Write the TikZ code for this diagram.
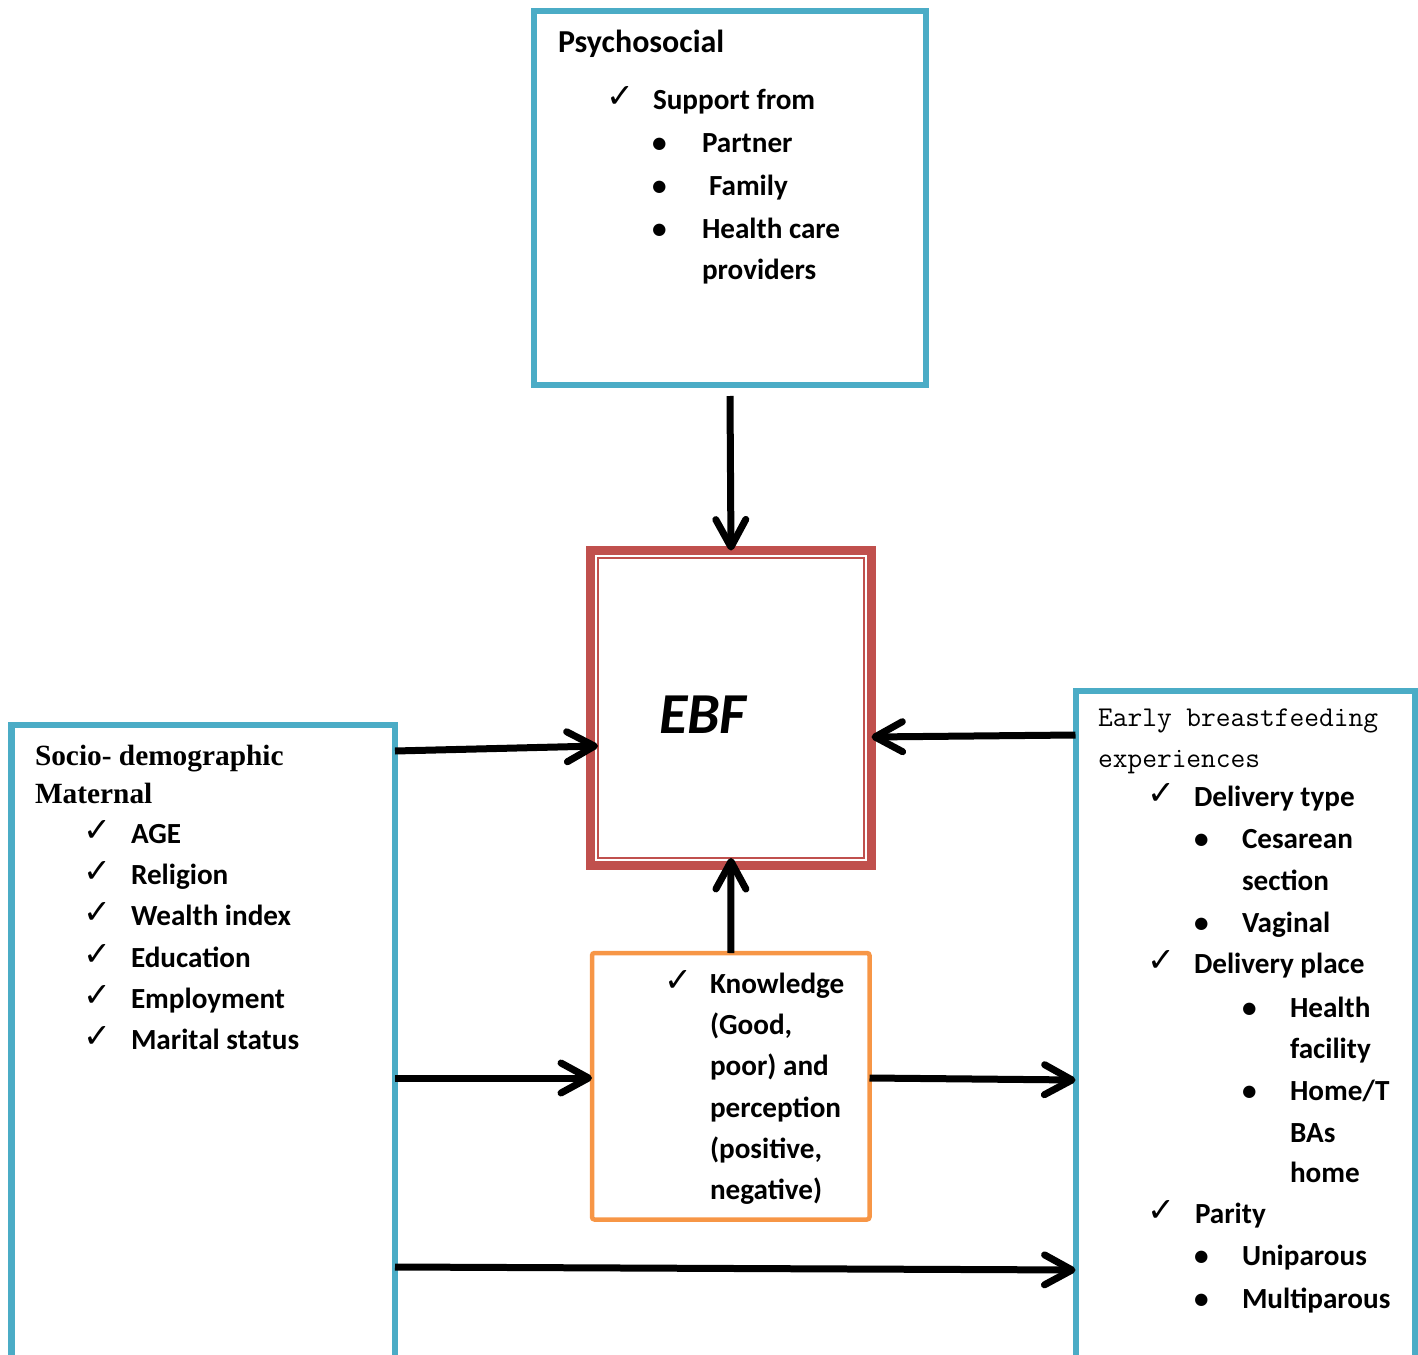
\documentclass[tikz,border=0pt]{standalone}
\usepackage{fontspec}
\setmainfont{Carlito}
\newfontfamily\serifbf{Liberation Serif}
\newfontfamily\symfnt{DejaVu Sans}
\usetikzlibrary{arrows.meta,fit}
\definecolor{boxteal}{HTML}{4BACC6}
\definecolor{boxred}{HTML}{C0504D}
\definecolor{boxorange}{HTML}{F79646}
\begin{document}
\begin{tikzpicture}[x=0.02cm,y=-0.02cm]
\tikzstyle{every node}+=[inner sep=0pt,outer sep=0pt]
\tikzstyle{txt}=[anchor=base west,font=\fontsize{16.6}{20}\selectfont\bfseries]
\tikzstyle{tick}=[anchor=base west,font=\fontsize{19}{22}\selectfont\symfnt]
\tikzstyle{arr}=[line width=0.14cm,-{Straight Barb[length=0.55cm,width=0.6cm,round]}]
\useasboundingbox (0,0) rectangle (1418,1355);
\clip (0,0) rectangle (1418,1355);
\node [draw=boxteal,line width=0.12cm,fit={(534,11) (926,385)}] (psy) {};
\node [draw=boxred,line width=0.18cm,fit={(590.5,550.5) (871.5,865.5)}] (ebf) {};
\node [draw=boxred,line width=0.04cm,fit={(598,558) (864,858)}] (ebfin) {};
\node [draw=boxorange,line width=0.09cm,rounded corners=0.05cm,fit={(592,953) (869.5,1219.5)}] (know) {};
\node [draw=boxteal,line width=0.13cm,fit={(11.5,725) (395,1420)}] (soc) {};
\node [draw=boxteal,line width=0.12cm,fit={(1075.5,691) (1415,1420)}] (early) {};
\node [anchor=base west,font=\fontsize{18.2}{22}\selectfont\bfseries] (psyT) at (558,53) {Psychosocial};
\node [tick] (psyC) at (606,108) {✓};
\node [txt] (psy0) at (653,110) {Support from};
\node [txt] (psyB1) at (652,153) {•};
\node [txt] (psy1) at (702,153) {Partner};
\node [txt] (psyB2) at (652,195) {•};
\node [txt] (psy2) at (709,195) {Family};
\node [txt] (psyB3) at (652,238) {•};
\node [txt] (psy3) at (702,238) {Health care};
\node [txt] (psy4) at (702,279) {providers};
\node [anchor=base west,font=\fontsize{33}{36}\selectfont\bfseries\itshape] (ebfT) at (659,733) {EBF};
\node [anchor=base west,font=\fontsize{16.7}{20}\selectfont\serifbf\bfseries] (socT1) at (35,765) {Socio- demographic};
\node [anchor=base west,font=\fontsize{16.7}{20}\selectfont\serifbf\bfseries] (socT2) at (35,803) {Maternal};
\node [tick] (socC1) at (83,841) {✓};
\node [txt] (soc1) at (131,843) {AGE};
\node [tick] (socC2) at (83,882) {✓};
\node [txt] (soc2) at (131,884) {Religion};
\node [tick] (socC3) at (83,923) {✓};
\node [txt] (soc3) at (131,925) {Wealth index};
\node [tick] (socC4) at (83,965) {✓};
\node [txt] (soc4) at (131,967) {Education};
\node [tick] (socC5) at (83,1006) {✓};
\node [txt] (soc5) at (131,1008) {Employment};
\node [tick] (socC6) at (83,1047) {✓};
\node [txt] (soc6) at (131,1049) {Marital status};
\node [tick] (knowC) at (664,991) {✓};
\node [txt] (know1) at (710,993) {Knowledge};
\node [txt] (know2) at (710,1034) {(Good,};
\node [txt] (know3) at (710,1075) {poor) and};
\node [txt] (know4) at (710,1117) {perception};
\node [txt] (know5) at (710,1158) {(positive,};
\node [txt] (know6) at (710,1199) {negative)};
\node [anchor=base west,font=\fontsize{16.3}{20}\selectfont\ttfamily] (earlyT1) at (1098,726) {Early breastfeeding};
\node [anchor=base west,font=\fontsize{16.3}{20}\selectfont\ttfamily] (earlyT2) at (1098,767) {experiences};
\node [tick] (earlyC1) at (1147,804) {✓};
\node [txt] (early1) at (1194,806) {Delivery type};
\node [txt] (earlyB1) at (1194,848) {•};
\node [txt] (early2) at (1242,848) {Cesarean};
\node [txt] (early3) at (1242,890) {section};
\node [txt] (earlyB2) at (1194,932) {•};
\node [txt] (early4) at (1242,932) {Vaginal};
\node [tick] (earlyC2) at (1147,971) {✓};
\node [txt] (early5) at (1194,973) {Delivery place};
\node [txt] (earlyB3) at (1242,1017) {•};
\node [txt] (early6) at (1290,1017) {Health};
\node [txt] (early7) at (1290,1058) {facility};
\node [txt] (earlyB4) at (1242,1100) {•};
\node [txt] (early8) at (1290,1100) {Home/T};
\node [txt] (early9) at (1290,1142) {BAs};
\node [txt] (early10) at (1290,1182) {home};
\node [tick] (earlyC3) at (1147,1221) {✓};
\node [txt] (early11) at (1195,1223) {Parity};
\node [txt] (earlyB5) at (1194,1265) {•};
\node [txt] (early12) at (1242,1265) {Uniparous};
\node [txt] (earlyB6) at (1194,1308) {•};
\node [txt] (early13) at (1242,1308) {Multiparous};
\draw [arr] (psy.south |- 0,396) -- (ebf.north);
\draw [arr] (soc.east |- 0,751) -- (ebfin.west |- 0,746);
\draw [arr] (early.west |- 0,735) -- (ebf.east |- 0,737);
\draw [arr] (know.north) -- (ebfin.south);
\draw [arr] (soc.east |- 0,1078) -- (know.west |- 0,1078);
\draw [arr] (know.east |- 0,1078) -- (early.west |- 0,1080);
\draw [arr] (soc.east |- 0,1267) -- (early.west |- 0,1270);
\end{tikzpicture}
\end{document}
